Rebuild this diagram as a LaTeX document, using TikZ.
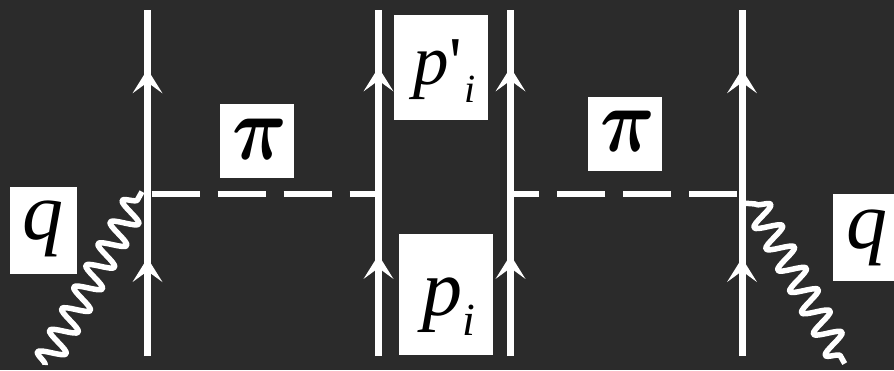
\documentclass[tikz,border=0pt]{standalone}
\usepackage[no-math]{fontspec}
\setmainfont{Liberation Serif}
\newfontfamily\plainf{Liberation Serif}
\usetikzlibrary{decorations.pathmorphing,decorations.markings,arrows.meta}
\definecolor{bgc}{HTML}{2B2B2B}
\newcommand\lab[3]{\raisebox{#2pt}[0pt][0pt]{\makebox[0pt][l]{\hspace*{#1pt}#3}}}
\newcommand\sz[1]{\fontsize{#1}{#1}\selectfont}
\tikzset{
  fermion/.style 2 args={draw=white,line width=7pt,postaction={decorate,decoration={markings,
    mark=at position #1 with {\arrow[white,line width=0pt]{Stealth[length=24pt,width=30pt,inset=11pt]}},
    mark=at position #2 with {\arrow[white,line width=0pt]{Stealth[length=24pt,width=30pt,inset=11pt]}}}}},
  pion/.style={draw=white,line width=6pt,dash pattern=on 48pt off 18pt},
  photon/.style={draw=white,line width=5.5pt,line join=round,decorate,decoration={snake,segment length=#1,amplitude=13pt}},
  lead/.style={draw=white,line width=5.5pt,line cap=round},
  label/.style={fill=white,text=black,inner sep=0pt,anchor=center}
}
\begin{document}
\begin{tikzpicture}[x=1pt,y=-1pt]
\useasboundingbox (0,0) rectangle (894,370);
\fill[bgc] (0,0) rectangle (894,370);
\foreach \n/\x in {a/147.5,b/378.5,c/510.5,d/742}{
  \coordinate (\n b) at (\x,356);
  \coordinate (\n t) at (\x,10);
  \coordinate (\n m) at (\x,193.7);
}
\coordinate (qla) at (45,365);
\coordinate (qlb) at (142,191.7);
\coordinate (qra) at (844.7,363.6);
\coordinate (qrb) at (755.7,204);
\coordinate (qrc) at (742,203);
\draw[fermion={0.283}{0.8285}] (ab) -- (at);
\draw[fermion={0.292}{0.834}] (bb) -- (bt);
\draw[fermion={0.292}{0.834}] (cb) -- (ct);
\draw[fermion={0.283}{0.8285}] (db) -- (dt);
\draw[pion,dash phase=62pt] (am) -- (bm);
\draw[pion,dash phase=61pt] (dm) -- (cm);
\draw[photon=24.8pt] (qla) -- (qlb);
\draw[lead] (qrc) -- (qrb);
\draw[photon=24.4pt] (qrb) -- (qra);
\node[label,minimum width=67pt,minimum height=87pt] (q1) at (43.5,230.5) {\lab{-21.5}{-9}{\sz{82}\itshape q}};
\node[label,minimum width=61pt,minimum height=87pt] (q2) at (863.5,237.5) {\lab{-17.5}{-10.5}{\sz{82}\itshape q}};
\node[label,minimum width=74pt,minimum height=74pt] (pi1) at (257,141) {\lab{-25}{-18}{\scalebox{7.6}[9.1]{\boldmath$\pi$}}};
\node[label,minimum width=74pt,minimum height=74pt] (pi2) at (625,134) {\lab{-25}{-17.6}{\scalebox{7.6}[9.1]{\boldmath$\pi$}}};
\node[label,minimum width=94pt,minimum height=105pt] (p1) at (441,67.5) {\lab{-28}{-16.8}{\sz{71}\itshape p}\lab{8.5}{-17.5}{\sz{70}\plainf '}\lab{23}{-34.5}{\sz{40}\itshape i}};
\node[label,minimum width=94pt,minimum height=121pt] (p2) at (446,294.5) {\lab{-24}{-21}{\sz{80}\itshape p}\lab{16}{-40.5}{\sz{46}\itshape i}};
\end{tikzpicture}
\end{document}
